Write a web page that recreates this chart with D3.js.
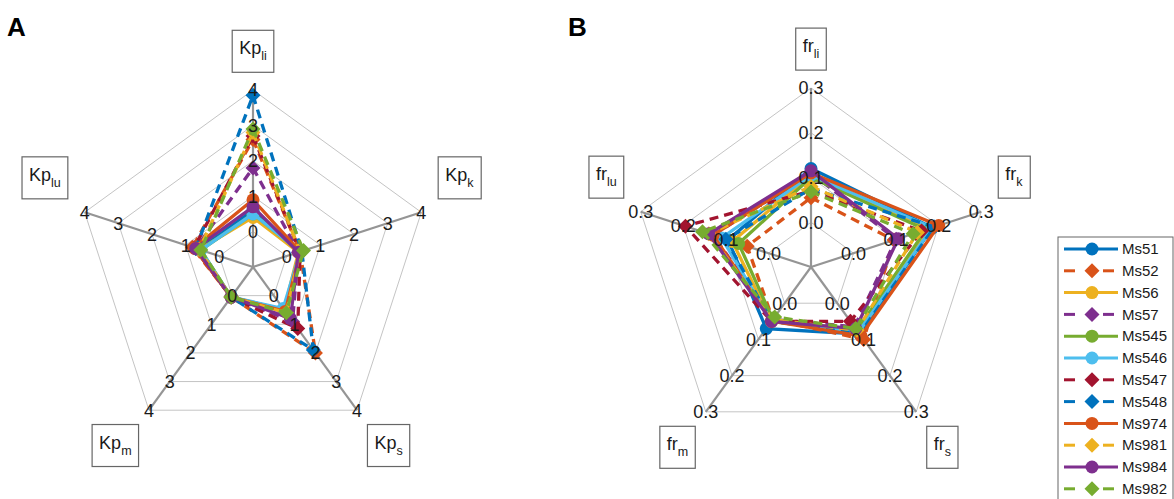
<!DOCTYPE html>
<html lang="en">
  <head>
    <meta charset="UTF-8">
    <title>Spider plots Kp / fr</title>
    <style>
      body { margin: 0; background: #fff; }
      svg text { font-family: "Liberation Sans", Arial, sans-serif; }
    </style>
  </head>
  <body>
    <div id="chart-container"></div>
    <script src="https://d3js.org/d3.v7.min.js"></script>
    <script>
    // axis order goes clockwise from the top
    const axisKeys = ["li", "k", "s", "m", "lu"];
    const seriesNames = ["Ms51", "Ms52", "Ms56", "Ms57", "Ms545", "Ms546",
                         "Ms547", "Ms548", "Ms974", "Ms981", "Ms984", "Ms982"];

    const kpTicks = [0, 1, 2, 3, 4];
    const frTicks = [0, 0.1, 0.2, 0.3];

    // Kp values per series: li, k, s, m, lu
    const kpValues = [
      [0.6, 0.4, 0.5, 0.05, 0.6],
      [2.6, 0.4, 2.0, 0.05, 0.8],
      [0.4, 0.35, 0.5, 0.05, 0.6],
      [1.8, 0.35, 0.9, 0.05, 0.7],
      [0.5, 0.4, 0.5, 0.05, 0.55],
      [0.5, 0.4, 0.45, 0.05, 0.55],
      [2.7, 0.4, 1.15, 0.05, 0.75],
      [3.85, 0.45, 1.9, 0.05, 0.7],
      [0.9, 0.4, 0.55, 0.05, 0.75],
      [2.8, 0.4, 0.6, 0.05, 0.6],
      [0.7, 0.35, 0.8, 0.05, 0.7],
      [2.9, 0.5, 0.6, 0.05, 0.55]
    ];

    // fr values per series: li, k, s, m, lu
    const frValues = [
      [0.12, 0.185, 0.085, 0.07, 0.095],
      [0.055, 0.095, 0.10, 0.045, 0.05],
      [0.105, 0.18, 0.08, 0.05, 0.085],
      [0.11, 0.10, 0.065, 0.045, 0.13],
      [0.10, 0.17, 0.075, 0.045, 0.07],
      [0.105, 0.185, 0.08, 0.05, 0.11],
      [0.07, 0.16, 0.05, 0.05, 0.195],
      [0.075, 0.19, 0.085, 0.05, 0.10],
      [0.11, 0.20, 0.09, 0.05, 0.13],
      [0.08, 0.15, 0.075, 0.045, 0.14],
      [0.115, 0.105, 0.07, 0.05, 0.14],
      [0.068, 0.14, 0.07, 0.038, 0.155]
    ];

    // matlab default colour order, repeated
    const colors = ["#0072BD", "#D95319", "#EDB120", "#7E2F8E", "#77AC30", "#4DBEEE",
                    "#A2142F", "#0072BD", "#D95319", "#EDB120", "#7E2F8E", "#77AC30"];
    const dashed = [false, true, false, true, false, false, true, true, false, true, false, true];

    const svg = d3.select("#chart-container")
      .append("svg")
      .attr("width", 1174)
      .attr("height", 499);

    function marker(sel, isDiamond, color) {
      if (isDiamond) {
        sel.append("path")
          .attr("d", "M0,-7.5L7.5,0L0,7.5L-7.5,0Z")
          .attr("fill", color);
      } else {
        sel.append("circle")
          .attr("r", 6.5)
          .attr("fill", color);
      }
    }

    function drawRadar(cx, cy, R, ticks, fmt, values, prefix) {
      const g = svg.append("g").attr("transform", "translate(" + cx + "," + cy + ")");
      const n = axisKeys.length;
      const r = d3.scaleLinear()
        .domain([ticks[0], ticks[ticks.length - 1]])
        .range([R / ticks.length, R]);
      const ang = i => i * 2 * Math.PI / n;   // 0 = up, clockwise
      const px = (i, rad) => rad * Math.sin(ang(i));
      const py = (i, rad) => -rad * Math.cos(ang(i));

      // webs
      const web = d3.lineRadial()
        .angle((d, i) => ang(i))
        .radius(d => d)
        .curve(d3.curveLinearClosed);
      ticks.forEach(t => {
        g.append("path")
          .attr("d", web(axisKeys.map(() => r(t))))
          .attr("fill", "none")
          .attr("stroke", "#c4c4c4")
          .attr("stroke-width", 1);
      });

      // spokes
      axisKeys.forEach((k, i) => {
        g.append("line")
          .attr("x1", 0).attr("y1", 0)
          .attr("x2", px(i, R)).attr("y2", py(i, R))
          .attr("stroke", "#959595")
          .attr("stroke-width", 2.2);
      });

      // series
      const line = d3.lineRadial()
        .angle((d, i) => ang(i))
        .radius(d => r(d))
        .curve(d3.curveLinearClosed);
      values.forEach((vals, s) => {
        g.append("path")
          .attr("d", line(vals))
          .attr("fill", "none")
          .attr("stroke", colors[s])
          .attr("stroke-width", 3.3)
          .attr("stroke-dasharray", dashed[s] ? "9,6" : null);
        vals.forEach((v, i) => {
          const m = g.append("g")
            .attr("transform", "translate(" + px(i, r(v)) + "," + py(i, r(v)) + ")");
          marker(m, dashed[s], colors[s]);
        });
      });

      // tick labels on every spoke
      axisKeys.forEach((k, i) => {
        ticks.forEach(t => {
          g.append("text")
            .attr("x", px(i, r(t)))
            .attr("y", py(i, r(t)))
            .attr("dy", "0.36em")
            .attr("text-anchor", "middle")
            .style("font-size", "18px")
            .style("fill", "#1a1a1a")
            .text(fmt(t));
        });
      });

      // boxed axis labels
      axisKeys.forEach((k, i) => {
        const ax = px(i, R * 1.1), ay = py(i, R * 1.1);
        const lg = g.append("g");
        const txt = lg.append("text").style("font-size", "18px").style("fill", "#1a1a1a");
        txt.append("tspan").text(prefix);
        txt.append("tspan").attr("dy", 6).style("font-size", "12.5px").text(k);
        const bb = txt.node().getBBox();
        const pad = 7;
        const bw = bb.width + 2 * pad, bh = 42;
        let x0, y0;
        if (Math.abs(ax) < 1) x0 = ax - bw / 2;
        else if (ax > 0) x0 = ax;
        else x0 = ax - bw;
        if (ay < 0) y0 = ay - bh - (Math.abs(ax) < 1 ? 0 : 8);
        else y0 = ay;
        lg.insert("rect", "text")
          .attr("x", x0).attr("y", y0)
          .attr("width", bw).attr("height", bh)
          .attr("fill", "#fff")
          .attr("stroke", "#666")
          .attr("stroke-width", 1.2);
        txt.attr("x", x0 + pad).attr("y", y0 + 24);
        txt.select("tspan").attr("x", x0 + pad);
      });
    }

    drawRadar(253, 267, 177, kpTicks, d3.format("d"), kpValues, "Kp");
    drawRadar(811, 267, 179, frTicks, d3.format(".1f"), frValues, "fr");

    // panel letters
    svg.append("text").attr("x", 7).attr("y", 36)
      .style("font-size", "26px").style("font-weight", "bold").text("A");
    svg.append("text").attr("x", 568).attr("y", 36)
      .style("font-size", "26px").style("font-weight", "bold").text("B");

    // legend
    const leg = svg.append("g").attr("transform", "translate(1058,237)");
    leg.append("rect")
      .attr("x", 0).attr("y", 0)
      .attr("width", 115).attr("height", 275)
      .attr("fill", "#fff")
      .attr("stroke", "#666")
      .attr("stroke-width", 1);
    seriesNames.forEach((name, s) => {
      const row = leg.append("g").attr("transform", "translate(0," + (12 + 21.8 * s) + ")");
      if (dashed[s]) {
        row.append("line").attr("x1", 6).attr("x2", 17).attr("y1", 0).attr("y2", 0)
          .attr("stroke", colors[s]).attr("stroke-width", 3);
        row.append("line").attr("x1", 45).attr("x2", 56).attr("y1", 0).attr("y2", 0)
          .attr("stroke", colors[s]).attr("stroke-width", 3);
      } else {
        row.append("line").attr("x1", 6).attr("x2", 60).attr("y1", 0).attr("y2", 0)
          .attr("stroke", colors[s]).attr("stroke-width", 3);
      }
      const m = row.append("g").attr("transform", "translate(34,0)");
      marker(m, dashed[s], colors[s]);
      row.append("text")
        .attr("x", 64).attr("y", 0).attr("dy", "0.34em")
        .style("font-size", "15px").style("fill", "#1a1a1a")
        .text(name);
    });
    </script>
  </body>
</html>
